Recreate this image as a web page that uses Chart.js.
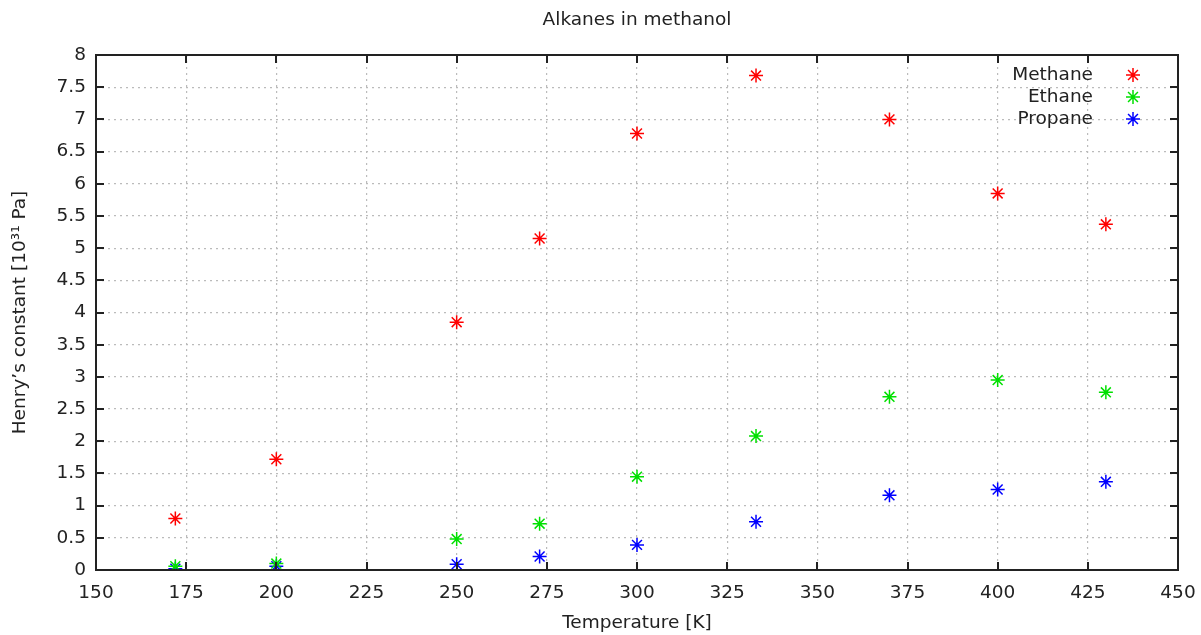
<!DOCTYPE html>
<html>
<head>
<meta charset="utf-8">
<script src="https://cdn.jsdelivr.net/npm/chart.js@4/dist/chart.umd.min.js"></script>
<style>
  html, body { margin: 0; padding: 0; background: #fff; }
  #wrap { width: 1201px; height: 635px; }
</style>
</head>
<body>
<div id="wrap"><canvas id="myChart" width="1201" height="635"></canvas></div>
<script>
const temperatures = [172, 200, 250, 273, 300, 333, 370, 400, 430];
const methane = [0.80, 1.72, 3.85, 5.15, 6.78, 7.68, 7.00, 5.85, 5.37];
const ethane = [0.06, 0.10, 0.48, 0.72, 1.45, 2.08, 2.69, 2.95, 2.76];
const propane = [0.02, 0.06, 0.09, 0.21, 0.39, 0.75, 1.16, 1.25, 1.37];
const seriesNames = ['Methane', 'Ethane', 'Propane'];
const seriesColors = ['#ff0000', '#00e000', '#0000ff'];

const fontFamily = '"DejaVu Sans", sans-serif';
const textColor = '#222';

function toPoints(values) {
  return temperatures.map((t, i) => ({ x: t, y: values[i] }));
}

// gnuplot style: black box, inward ticks on all sides, legend top right
const gnuplotFrame = {
  id: 'gnuplotFrame',
  afterDraw(chart) {
    const { ctx, chartArea: a, scales } = chart;
    const len = 8;
    ctx.save();
    ctx.strokeStyle = '#222';
    ctx.lineWidth = 2;
    ctx.beginPath();
    scales.x.ticks.forEach((t) => {
      const px = Math.round(scales.x.getPixelForValue(t.value));
      ctx.moveTo(px, a.bottom); ctx.lineTo(px, a.bottom - len);
      ctx.moveTo(px, a.top); ctx.lineTo(px, a.top + len);
    });
    scales.y.ticks.forEach((t) => {
      const py = Math.round(scales.y.getPixelForValue(t.value));
      ctx.moveTo(a.left, py); ctx.lineTo(a.left + len, py);
      ctx.moveTo(a.right, py); ctx.lineTo(a.right - len, py);
    });
    ctx.stroke();
    ctx.strokeRect(a.left, a.top, a.right - a.left, a.bottom - a.top);

    // legend
    ctx.font = '18.5px ' + fontFamily;
    ctx.textAlign = 'right';
    ctx.textBaseline = 'middle';
    chart.data.datasets.forEach((ds, i) => {
      const y = 75 + i * 22;
      ctx.fillStyle = textColor;
      ctx.fillText(ds.label, 1093, y);
      const cx = 1133, r = 7;
      ctx.strokeStyle = ds.borderColor;
      ctx.lineWidth = 1.5;
      ctx.beginPath();
      ctx.moveTo(cx - r, y); ctx.lineTo(cx + r, y);
      ctx.moveTo(cx, y - r); ctx.lineTo(cx, y + r);
      const d = r * 0.707;
      ctx.moveTo(cx - d, y - d); ctx.lineTo(cx + d, y + d);
      ctx.moveTo(cx - d, y + d); ctx.lineTo(cx + d, y - d);
      ctx.stroke();
    });
    ctx.restore();
  },
};

const ctx = document.getElementById('myChart').getContext('2d');
const chart = new Chart(ctx, {
  type: 'scatter',
  data: {
    datasets: [methane, ethane, propane].map((values, i) => ({
      label: seriesNames[i],
      data: toPoints(values),
      borderColor: seriesColors[i],
      backgroundColor: seriesColors[i],
      pointStyle: 'star',
      pointRadius: 7,
      pointBorderWidth: 1.5,
      pointHoverRadius: 7,
    })),
  },
  options: {
    responsive: false,
    animation: false,
    layout: { padding: { left: 0, right: 23, top: 0, bottom: 0 } },
    plugins: {
      legend: { display: false },
      tooltip: { enabled: false },
      title: {
        display: true,
        fullSize: false,
        text: 'Alkanes in methanol',
        color: textColor,
        font: { family: fontFamily, size: 18.5, weight: 'normal' },
        padding: { top: 9, bottom: 23.8 },
      },
    },
    scales: {
      x: {
        type: 'linear',
        min: 150,
        max: 450,
        afterFit(scale) {
          scale.height = 65;
          scale.paddingLeft = 0;
          scale.paddingRight = 0;
        },
        ticks: {
          stepSize: 25,
          color: textColor,
          padding: 12,
          maxRotation: 0,
          font: { family: fontFamily, size: 18.5 },
        },
        grid: { color: '#bbb', lineWidth: 1.2, drawTicks: false },
        border: { display: false, dash: [2, 4] },
        title: {
          display: true,
          text: 'Temperature [K]',
          color: textColor,
          font: { family: fontFamily, size: 18.5 },
          padding: { top: 0, bottom: 1 },
        },
      },
      y: {
        type: 'linear',
        min: 0,
        max: 8,
        afterFit(scale) {
          scale.width = 96;
          scale.paddingTop = 0;
          scale.paddingBottom = 0;
        },
        ticks: {
          stepSize: 0.5,
          color: textColor,
          padding: 10,
          font: { family: fontFamily, size: 18.5 },
          callback: (v) => String(v),
        },
        grid: { color: '#bbb', lineWidth: 1.2, drawTicks: false },
        border: { display: false, dash: [2, 4] },
        title: {
          display: true,
          text: 'Henry\u2019s constant [10\u00b3\u00b9 Pa]',
          color: textColor,
          font: { family: fontFamily, size: 18.5 },
          padding: { top: 9, bottom: 0 },
        },
      },
    },
  },
  plugins: [gnuplotFrame],
});
</script>
</body>
</html>
